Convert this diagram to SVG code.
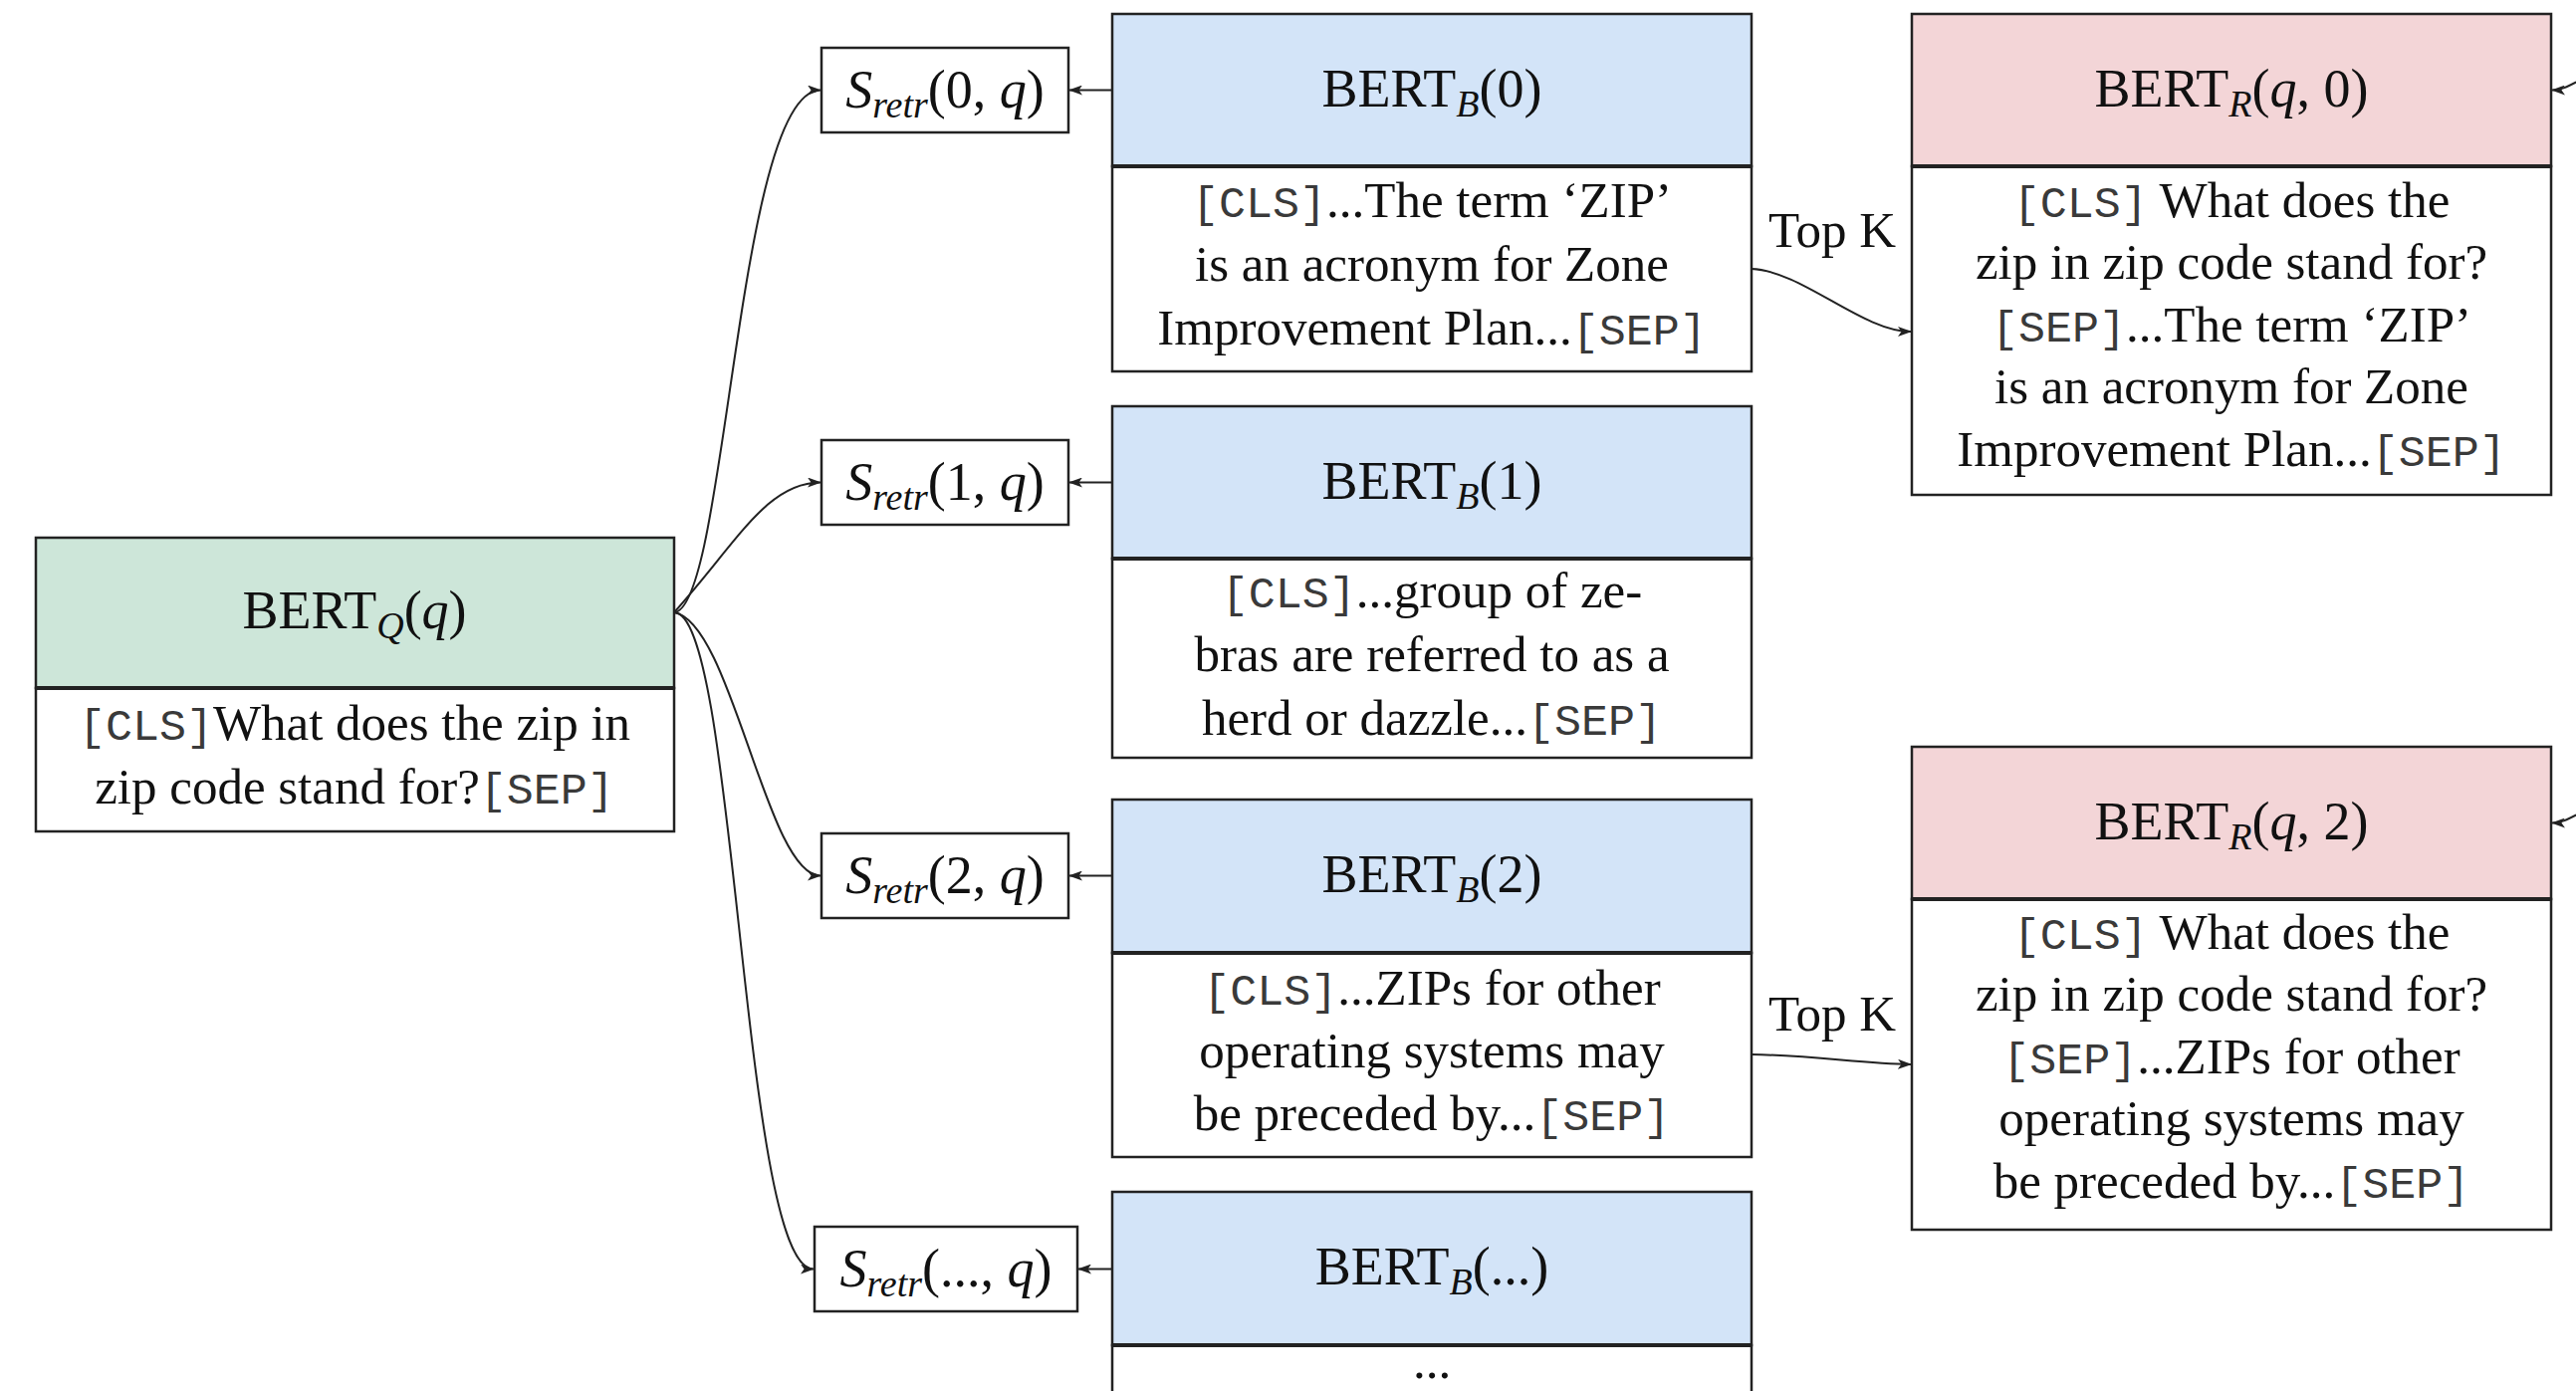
<svg xmlns="http://www.w3.org/2000/svg" width="2587" height="1397" viewBox="0 0 2587 1397">
<style>
.box{stroke:#222;stroke-width:2.5}
.g{fill:#cde6d9}.b{fill:#d3e4f8}.p{fill:#f3d5d7}.w{fill:#fff}
.dv{stroke:#222;stroke-width:4}
.t{font-family:"Liberation Serif",serif;font-size:51px;fill:#111;text-anchor:middle}
.h{font-size:54px}
.m{font-family:"Liberation Mono",monospace;font-size:45px;fill:#3a3a3a}
.it{font-style:italic}
.sub{font-size:38px;font-style:italic}
.edge{fill:none;stroke:#222;stroke-width:2;marker-end:url(#arr)}
</style>
<defs>
<marker id="arr" viewBox="0 0 14 10" refX="13" refY="5" markerWidth="14" markerHeight="10" orient="auto" markerUnits="userSpaceOnUse"><path d="M0,0 L14,5 L0,10 L3.5,5 z" fill="#222"/></marker>
</defs>

<g id="bert-q">
<rect class="box g" x="36" y="540" width="641" height="151"/>
<rect class="box w" x="36" y="691" width="641" height="144"/>
<line class="dv" x1="36" y1="691" x2="677" y2="691"/>
<text class="t h" x="356" y="631">BERT<tspan class="sub" dy="10">Q</tspan><tspan dy="-10">(</tspan><tspan class="it">q</tspan>)</text>
<text class="t" x="356" y="743"><tspan class="m">[CLS]</tspan>What does the zip in</text>
<text class="t" x="356" y="807">zip code stand for?<tspan class="m">[SEP]</tspan></text>
</g>

<g id="s0">
<rect class="box w" x="825" y="48" width="248" height="85"/>
<text class="t h" x="949" y="108"><tspan class="it">S</tspan><tspan class="sub" dy="10">retr</tspan><tspan dy="-10">(0, </tspan><tspan class="it">q</tspan>)</text>
</g>
<g id="s1">
<rect class="box w" x="825" y="442" width="248" height="85"/>
<text class="t h" x="949" y="502"><tspan class="it">S</tspan><tspan class="sub" dy="10">retr</tspan><tspan dy="-10">(1, </tspan><tspan class="it">q</tspan>)</text>
</g>
<g id="s2">
<rect class="box w" x="825" y="837" width="248" height="85"/>
<text class="t h" x="949" y="897"><tspan class="it">S</tspan><tspan class="sub" dy="10">retr</tspan><tspan dy="-10">(2, </tspan><tspan class="it">q</tspan>)</text>
</g>
<g id="s3">
<rect class="box w" x="818" y="1232" width="264" height="85"/>
<text class="t h" x="950" y="1292"><tspan class="it">S</tspan><tspan class="sub" dy="10">retr</tspan><tspan dy="-10">(..., </tspan><tspan class="it">q</tspan>)</text>
</g>

<g id="bert-b0">
<rect class="box b" x="1117" y="14" width="642" height="153"/>
<rect class="box w" x="1117" y="167" width="642" height="206"/>
<line class="dv" x1="1117" y1="167" x2="1759" y2="167"/>
<text class="t h" x="1438" y="107">BERT<tspan class="sub" dy="10">B</tspan><tspan dy="-10">(0)</tspan></text>
<text class="t" x="1438" y="218"><tspan class="m">[CLS]</tspan>...The term ‘ZIP’</text>
<text class="t" x="1438" y="282">is an acronym for Zone</text>
<text class="t" x="1438" y="346">Improvement Plan...<tspan class="m">[SEP]</tspan></text>
</g>

<g id="bert-b1">
<rect class="box b" x="1117" y="408" width="642" height="153"/>
<rect class="box w" x="1117" y="561" width="642" height="200"/>
<line class="dv" x1="1117" y1="561" x2="1759" y2="561"/>
<text class="t h" x="1438" y="501">BERT<tspan class="sub" dy="10">B</tspan><tspan dy="-10">(1)</tspan></text>
<text class="t" x="1438" y="610"><tspan class="m">[CLS]</tspan>...group of ze-</text>
<text class="t" x="1438" y="674">bras are referred to as a</text>
<text class="t" x="1438" y="738">herd or dazzle...<tspan class="m">[SEP]</tspan></text>
</g>

<g id="bert-b2">
<rect class="box b" x="1117" y="803" width="642" height="154"/>
<rect class="box w" x="1117" y="957" width="642" height="205"/>
<line class="dv" x1="1117" y1="957" x2="1759" y2="957"/>
<text class="t h" x="1438" y="896">BERT<tspan class="sub" dy="10">B</tspan><tspan dy="-10">(2)</tspan></text>
<text class="t" x="1438" y="1009"><tspan class="m">[CLS]</tspan>...ZIPs for other</text>
<text class="t" x="1438" y="1072">operating systems may</text>
<text class="t" x="1438" y="1135">be preceded by...<tspan class="m">[SEP]</tspan></text>
</g>

<g id="bert-b3">
<rect class="box b" x="1117" y="1197" width="642" height="154"/>
<rect class="box w" x="1117" y="1351" width="642" height="210"/>
<line class="dv" x1="1117" y1="1351" x2="1759" y2="1351"/>
<text class="t h" x="1438" y="1290">BERT<tspan class="sub" dy="10">B</tspan><tspan dy="-10">(...)</tspan></text>
<text class="t" x="1438" y="1384">...</text>
</g>

<g id="bert-r0">
<rect class="box p" x="1920" y="14" width="642" height="153"/>
<rect class="box w" x="1920" y="167" width="642" height="330"/>
<line class="dv" x1="1920" y1="167" x2="2562" y2="167"/>
<text class="t h" x="2241" y="107">BERT<tspan class="sub" dy="10">R</tspan><tspan dy="-10">(</tspan><tspan class="it">q</tspan>, 0)</text>
<text class="t" x="2241" y="218"><tspan class="m">[CLS]</tspan> What does the</text>
<text class="t" x="2241" y="280">zip in zip code stand for?</text>
<text class="t" x="2241" y="343"><tspan class="m">[SEP]</tspan>...The term ‘ZIP’</text>
<text class="t" x="2241" y="405">is an acronym for Zone</text>
<text class="t" x="2241" y="468">Improvement Plan...<tspan class="m">[SEP]</tspan></text>
</g>

<g id="bert-r2">
<rect class="box p" x="1920" y="750" width="642" height="153"/>
<rect class="box w" x="1920" y="903" width="642" height="332"/>
<line class="dv" x1="1920" y1="903" x2="2562" y2="903"/>
<text class="t h" x="2241" y="843">BERT<tspan class="sub" dy="10">R</tspan><tspan dy="-10">(</tspan><tspan class="it">q</tspan>, 2)</text>
<text class="t" x="2241" y="953"><tspan class="m">[CLS]</tspan> What does the</text>
<text class="t" x="2241" y="1015">zip in zip code stand for?</text>
<text class="t" x="2241" y="1078"><tspan class="m">[SEP]</tspan>...ZIPs for other</text>
<text class="t" x="2241" y="1140">operating systems may</text>
<text class="t" x="2241" y="1203">be preceded by...<tspan class="m">[SEP]</tspan></text>
</g>

<g id="connectors">
<path class="edge" d="M677,615 C730,612 740,90.5 824,90.5"/>
<path class="edge" d="M677,615 C740,545 770,484.5 824,484.5"/>
<path class="edge" d="M677,615 C735,625 770,879.5 824,879.5"/>
<path class="edge" d="M677,615 C740,615 745,1274.5 817,1274.5"/>
<path class="edge" d="M1117,90.5 L1074,90.5"/>
<path class="edge" d="M1117,484.5 L1074,484.5"/>
<path class="edge" d="M1117,879.5 L1074,879.5"/>
<path class="edge" d="M1117,1274.5 L1083,1274.5"/>
<path class="edge" d="M1759,270 C1810,272 1870,333 1919,333"/>
<path class="edge" d="M1759,1059 C1820,1060 1870,1068 1919,1069"/>
<path class="edge" d="M2592,80 C2582,85 2574,90.5 2563,90.5"/>
<path class="edge" d="M2592,816 C2582,821 2574,826.5 2563,826.5"/>
<text class="t" x="1840" y="248">Top K</text>
<text class="t" x="1840" y="1035">Top K</text>
</g>
</svg>
